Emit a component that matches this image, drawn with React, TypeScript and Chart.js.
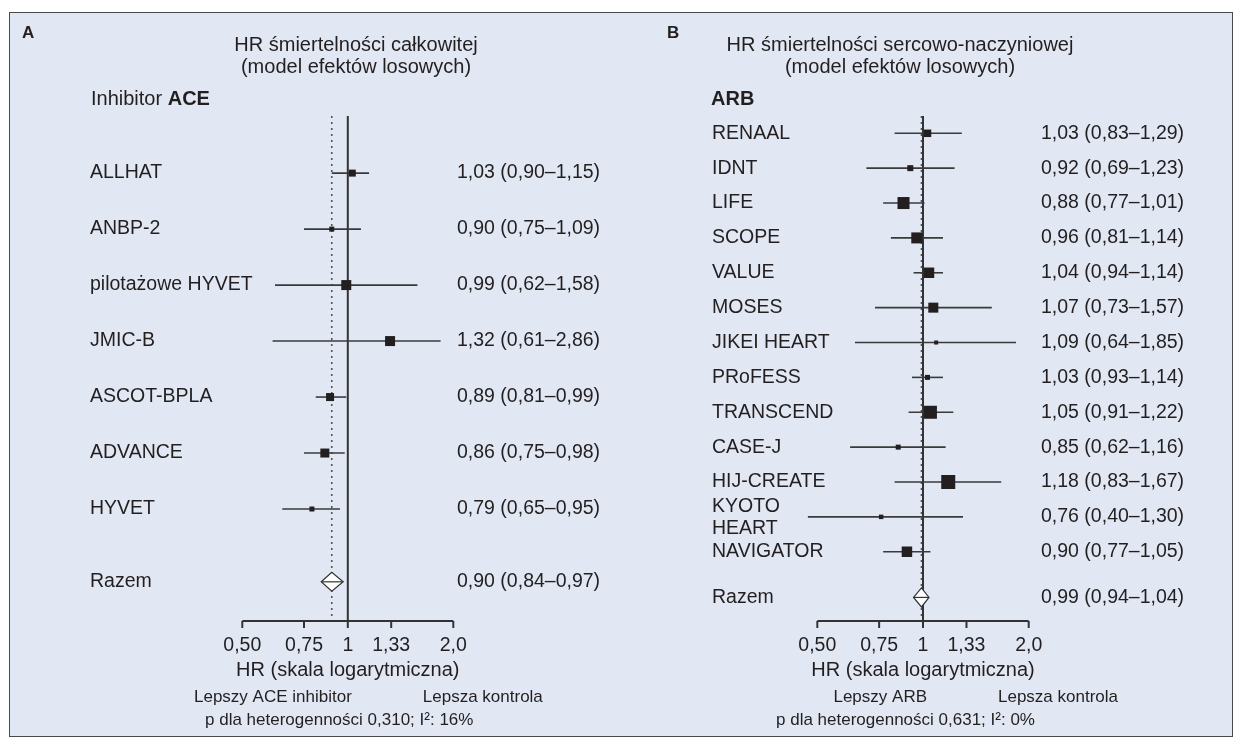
import React, { useEffect, useRef } from "react";
import { Chart, registerables } from "chart.js";

Chart.register(...registerables);

const FONT = "'Liberation Sans', Arial, Helvetica, sans-serif";
const INK = "#231f20";
const LINE = "#3a3a3a";

// Shared axis
const tickValues = [0.5, 0.75, 1, 1.33, 2.0];
const tickLabels = ["0,50", "0,75", "1", "1,33", "2,0"];
const whiskerMin = 0.47;
const whiskerMax = 1.84;

// Panel A – all-cause mortality, ACE inhibitor
const studiesA = ["ALLHAT", "ANBP-2", "pilotażowe HYVET", "JMIC-B", "ASCOT-BPLA", "ADVANCE", "HYVET"];
const hrA = [1.03, 0.9, 0.99, 1.32, 0.89, 0.86, 0.79];
const loA = [0.9, 0.75, 0.62, 0.61, 0.81, 0.75, 0.65];
const hiA = [1.15, 1.09, 1.58, 2.86, 0.99, 0.98, 0.95];
const weightA = [7, 5, 10, 10, 8, 9, 5];
const pooledA = [0.9, 0.84, 0.97];

// Panel B – cardiovascular mortality, ARB
const studiesB = [
  "RENAAL", "IDNT", "LIFE", "SCOPE", "VALUE", "MOSES", "JIKEI HEART", "PRoFESS",
  "TRANSCEND", "CASE-J", "HIJ-CREATE", "KYOTO\nHEART", "NAVIGATOR",
];
const hrB = [1.03, 0.92, 0.88, 0.96, 1.04, 1.07, 1.09, 1.03, 1.05, 0.85, 1.18, 0.76, 0.9];
const loB = [0.83, 0.69, 0.77, 0.81, 0.94, 0.73, 0.64, 0.93, 0.91, 0.62, 0.83, 0.4, 0.77];
const hiB = [1.29, 1.23, 1.01, 1.14, 1.14, 1.57, 1.85, 1.14, 1.22, 1.16, 1.67, 1.3, 1.05];
const weightB = [7.5, 6, 12, 11, 10.5, 10, 4, 5, 13, 5, 14, 4.5, 10.5];
const pooledB = [0.99, 0.94, 1.04];

const fmt = (v: number) => v.toFixed(2).replace(".", ",");
const ciText = (h: number, l: number, u: number) => `${fmt(h)} (${fmt(l)}–${fmt(u)})`;

type Panel = {
  letter: string;
  letterX: number;
  title: string[];
  titleX: number;
  header: { t: string; bold: boolean }[];
  headerX: number;
  labelX: number;
  valueX: number;
  padLeft: number;
  padRight: number;
  yMin: number;
  yMax: number;
  pooledRow: number;
  studies: string[];
  hr: number[];
  lo: number[];
  hi: number[];
  weight: number[];
  pooled: number[];
  betterLeft: string;
  betterRight: string;
  hetero: string;
  heteroX: number;
};

const panels: Panel[] = [
  {
    letter: "A",
    letterX: 22,
    title: ["HR śmiertelności całkowitej", "(model efektów losowych)"],
    titleX: 356,
    header: [
      { t: "Inhibitor ", bold: false },
      { t: "ACE", bold: true },
    ],
    headerX: 91,
    labelX: 90,
    valueX: 457,
    padLeft: 242.3,
    padRight: 1242 - 453.3,
    yMin: -1.02,
    yMax: 8.0,
    pooledRow: 7.3,
    studies: studiesA,
    hr: hrA,
    lo: loA,
    hi: hiA,
    weight: weightA,
    pooled: pooledA,
    betterLeft: "Lepszy ACE inhibitor",
    betterRight: "Lepsza kontrola",
    hetero: "p dla heterogenności 0,310; I²: 16%",
    heteroX: 205,
  },
  {
    letter: "B",
    letterX: 667,
    title: ["HR śmiertelności sercowo-naczyniowej", "(model efektów losowych)"],
    titleX: 900,
    header: [{ t: "ARB", bold: true }],
    headerX: 711,
    labelX: 712,
    valueX: 1041,
    padLeft: 817.3,
    padRight: 1242 - 1028.7,
    yMin: -0.496,
    yMax: 13.986,
    pooledRow: 13.31,
    studies: studiesB,
    hr: hrB,
    lo: loB,
    hi: hiB,
    weight: weightB,
    pooled: pooledB,
    betterLeft: "Lepszy ARB",
    betterRight: "Lepsza kontrola",
    hetero: "p dla heterogenności 0,631; I²: 0%",
    heteroX: 776,
  },
];

function font(size: number, bold = false) {
  return `${bold ? "bold " : ""}${size}px ${FONT}`;
}

function makePlugin(p: Panel) {
  return {
    id: "forestDecor" + p.letter,
    afterDatasetsDraw(chart: any) {
      const ctx: CanvasRenderingContext2D = chart.ctx;
      const xs = chart.scales.x;
      const ys = chart.scales.y;
      const area = chart.chartArea;
      ctx.save();

      // pooled diamond
      const yP = ys.getPixelForValue(p.pooledRow);
      const xl = xs.getPixelForValue(p.pooled[1]);
      const xm = xs.getPixelForValue(p.pooled[0]);
      const xr = xs.getPixelForValue(p.pooled[2]);
      const dh = 9.5;
      ctx.beginPath();
      ctx.moveTo(xl, yP);
      ctx.lineTo(xm, yP - dh);
      ctx.lineTo(xr, yP);
      ctx.lineTo(xm, yP + dh);
      ctx.closePath();
      ctx.fillStyle = "#ffffff";
      ctx.fill();
      ctx.lineWidth = 1.2;
      ctx.strokeStyle = "#333333";
      ctx.stroke();
      ctx.beginPath();
      ctx.moveTo(xl, yP);
      ctx.lineTo(xr, yP);
      ctx.stroke();

      // x axis
      const yAxis = area.bottom;
      ctx.strokeStyle = "#333333";
      ctx.lineWidth = 2;
      ctx.beginPath();
      ctx.moveTo(xs.getPixelForValue(tickValues[0]), yAxis);
      ctx.lineTo(xs.getPixelForValue(tickValues[tickValues.length - 1]), yAxis);
      ctx.stroke();
      ctx.fillStyle = INK;
      ctx.textAlign = "center";
      ctx.textBaseline = "middle";
      ctx.font = font(19.5);
      tickValues.forEach((v, i) => {
        const x = xs.getPixelForValue(v);
        ctx.beginPath();
        ctx.moveTo(x, yAxis);
        ctx.lineTo(x, yAxis + 7);
        ctx.stroke();
        ctx.fillText(tickLabels[i], x, yAxis + 25);
      });
      const x1 = xs.getPixelForValue(1);
      ctx.font = font(20);
      ctx.fillText("HR (skala logarytmiczna)", x1, yAxis + 49);

      ctx.font = font(17);
      ctx.textAlign = "right";
      ctx.fillText(p.betterLeft, x1 + 4, yAxis + 76);
      ctx.textAlign = "left";
      ctx.fillText(p.betterRight, x1 + 75, yAxis + 76);
      ctx.fillText(p.hetero, p.heteroX, yAxis + 99);

      // panel letter + title
      ctx.font = font(17, true);
      ctx.fillText(p.letter, p.letterX, 33);
      ctx.font = font(20);
      ctx.textAlign = "center";
      ctx.fillText(p.title[0], p.titleX, 45);
      ctx.fillText(p.title[1], p.titleX, 67);

      // group header
      ctx.textAlign = "left";
      let hx = p.headerX;
      p.header.forEach((h) => {
        ctx.font = font(20, h.bold);
        ctx.fillText(h.t, hx, 99);
        hx += ctx.measureText(h.t).width;
      });

      // row labels and values
      ctx.font = font(19.5);
      p.studies.forEach((s, i) => {
        const y = ys.getPixelForValue(i);
        const lines = s.split("\n");
        if (lines.length === 1) {
          ctx.fillText(s, p.labelX, y);
        } else {
          ctx.fillText(lines[0], p.labelX, y - 10);
          ctx.fillText(lines[1], p.labelX, y + 12);
        }
        ctx.fillText(ciText(p.hr[i], p.lo[i], p.hi[i]), p.valueX, y);
      });
      ctx.fillText("Razem", p.labelX, yP);
      ctx.fillText(ciText(p.pooled[0], p.pooled[1], p.pooled[2]), p.valueX, yP);

      ctx.restore();
    },
  };
}

function buildConfig(p: Panel): any {
  const datasets: any[] = [];
  datasets.push({
    label: "HR",
    data: p.hr.map((v, i) => ({ x: v, y: i })),
    pointStyle: "rect",
    pointRadius: p.weight.map((w) => w / Math.SQRT2),
    backgroundColor: INK,
    borderWidth: 0,
    showLine: false,
    order: 0,
    clip: false,
  });
  p.hr.forEach((_, i) => {
    datasets.push({
      label: "CI " + i,
      data: [
        { x: Math.max(p.lo[i], whiskerMin), y: i },
        { x: Math.min(p.hi[i], whiskerMax), y: i },
      ],
      showLine: true,
      borderColor: LINE,
      borderWidth: 1.6,
      pointRadius: 0,
      order: 1,
      clip: false,
    });
  });
  datasets.push({
    label: "HR = 1",
    data: [
      { x: 1, y: p.yMin },
      { x: 1, y: p.yMax },
    ],
    showLine: true,
    borderColor: "#333333",
    borderWidth: 2,
    pointRadius: 0,
    order: 2,
  });
  datasets.push({
    label: "pooled",
    data: [
      { x: p.pooled[0], y: p.yMin },
      { x: p.pooled[0], y: p.yMax },
    ],
    showLine: true,
    borderColor: "#555555",
    borderWidth: 1.6,
    borderDash: [2, 4],
    pointRadius: 0,
    order: 3,
  });

  return {
    type: "scatter",
    data: { datasets },
    options: {
      animation: false,
      responsive: false,
      events: [],
      layout: { padding: { left: p.padLeft, right: p.padRight, top: 116, bottom: 746 - 621 } },
      plugins: { legend: { display: false }, tooltip: { enabled: false }, title: { display: false } },
      scales: {
        x: { type: "logarithmic", min: tickValues[0], max: tickValues[tickValues.length - 1], display: false },
        y: { type: "linear", min: p.yMin, max: p.yMax, reverse: true, display: false },
      },
    },
    plugins: [makePlugin(p)],
  };
}

function PanelChart({ p }: { p: Panel }) {
  const ref = useRef<HTMLCanvasElement>(null);
  useEffect(() => {
    const chart = new Chart(ref.current as HTMLCanvasElement, buildConfig(p));
    return () => chart.destroy();
  }, [p]);
  return (
    <canvas
      ref={ref}
      width={1242}
      height={746}
      style={{ position: "absolute", left: 0, top: 0, width: 1242, height: 746 }}
    />
  );
}

export default function App() {
  return (
    <div style={{ position: "absolute", left: 0, top: 0, width: 1242, height: 746, background: "#ffffff" }}>
      <div
        style={{
          position: "absolute",
          left: 9,
          top: 12,
          width: 1224,
          height: 725,
          boxSizing: "border-box",
          border: "1.5px solid #4a4a4a",
          background: "#e1e7f3",
        }}
      />
      {panels.map((p) => (
        <PanelChart key={p.letter} p={p} />
      ))}
    </div>
  );
}
